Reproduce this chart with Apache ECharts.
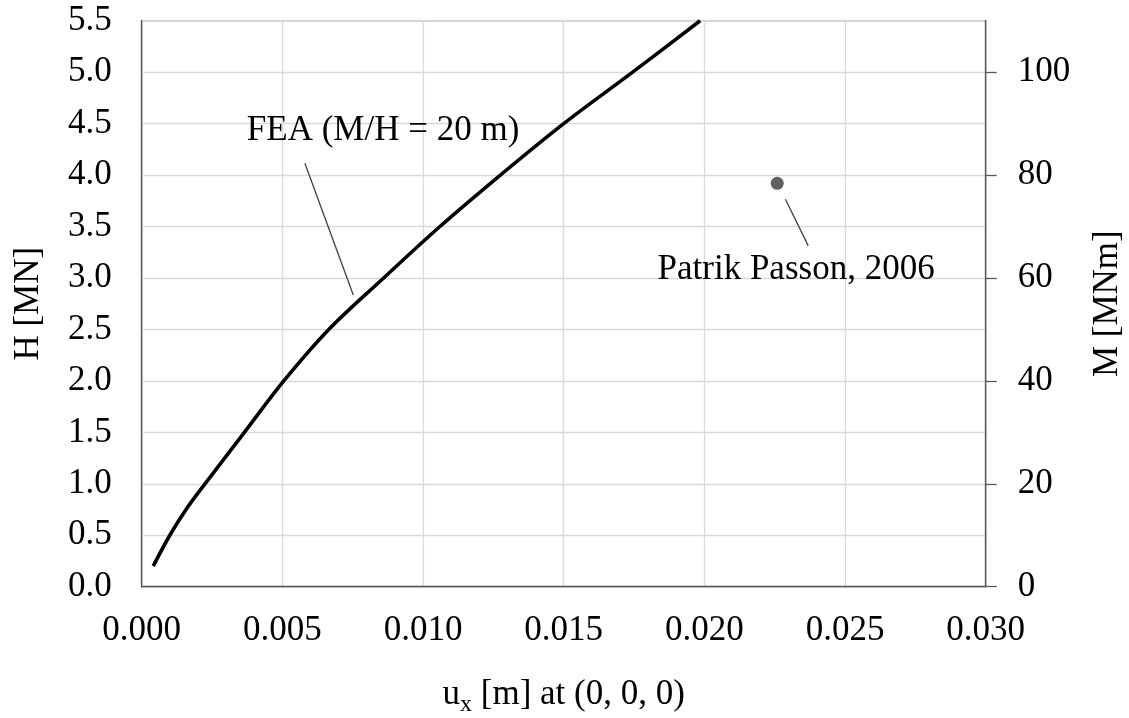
<!DOCTYPE html>
<html>
<head>
<meta charset="utf-8">
<script src="https://cdn.jsdelivr.net/npm/echarts@6/dist/echarts.min.js"></script>
<style>html,body{margin:0;padding:0;background:#fff}#c{width:1129px;height:718px}</style>
</head>
<body>
<div id="c"></div>
<script>
// FEA curve: displacement u_x [m] vs horizontal load H [MN]
const feaUx = [0.00041, 0.00100, 0.00160, 0.00225, 0.00365, 0.00505, 0.00665, 0.0086, 0.0106, 0.01275, 0.0150, 0.01745, 0.01985];
const feaH  = [0.20, 0.50, 0.76, 1.00, 1.50, 2.00, 2.50, 3.00, 3.50, 4.00, 4.50, 5.00, 5.50];
// Measured point (Patrik Passon, 2006)
const passonUx = [0.02259];
const passonH  = [3.92];
// Annotation label positions (data units) and leader lines
const labelTexts = ['FEA (M/H = 20 m)', 'Patrik Passon, 2006'];
const labelUx = [0.00858, 0.02326];
const labelH  = [4.43, 3.077];
const leaderFrom = [[0.00580, 4.115], [0.02288, 3.765]];
const leaderTo   = [[0.00752, 2.835], [0.02369, 3.314]];
// Axes
const xTicks = [0, 0.005, 0.010, 0.015, 0.020, 0.025, 0.030];
const hTicks = [0, 0.5, 1.0, 1.5, 2.0, 2.5, 3.0, 3.5, 4.0, 4.5, 5.0, 5.5];
const mTicks = [0, 20, 40, 60, 80, 100];

const FONT = '"Liberation Serif", "Times New Roman", serif';
const FS = 35;
const AX = '#595959';
const chart = echarts.init(document.getElementById('c'), null, {renderer: 'canvas'});

const option = {
  animation: false,
  backgroundColor: '#ffffff',
  textStyle: {fontFamily: FONT},
  grid: {left: 141.7, right: 143.3, top: 20.7, bottom: 131.3, containLabel: false, outerBoundsMode: 'none',
    show: true, borderColor: AX, borderWidth: 1.3, backgroundColor: 'transparent'},
  xAxis: {
    type: 'value', min: xTicks[0], max: xTicks[xTicks.length - 1], interval: xTicks[1] - xTicks[0],
    axisLine: {show: true, lineStyle: {color: AX, width: 1.3}},
    axisTick: {show: false},
    splitLine: {show: true, lineStyle: {color: '#d9d9d9', width: 1.3}},
    axisLabel: {color: '#000', fontSize: FS, fontFamily: FONT, margin: 27, formatter: v => v.toFixed(3)},
    name: '{n|u}{s|x}{n| [m] at (0, 0, 0)}', nameLocation: 'middle', nameGap: 86,
    nameTextStyle: {rich: {n: {fontSize: FS, fontFamily: FONT, color: '#000'}, s: {fontSize: 24, fontFamily: FONT, color: '#000', padding: [20, 0, 0, 0]}}}
  },
  yAxis: [{
    type: 'value', min: hTicks[0], max: hTicks[hTicks.length - 1], interval: hTicks[1] - hTicks[0],
    axisLine: {show: true, lineStyle: {color: AX, width: 1.3}},
    axisTick: {show: false},
    splitLine: {show: true, lineStyle: {color: '#d9d9d9', width: 1.3}},
    axisLabel: {color: '#000', fontSize: FS, fontFamily: FONT, margin: 30, formatter: v => v.toFixed(1)},
    name: 'H [MN]', nameLocation: 'middle', nameGap: 95, nameRotate: 90,
    nameTextStyle: {fontSize: FS, fontFamily: FONT, color: '#000'}
  }, {
    type: 'value', position: 'right', min: 0, max: 110, interval: mTicks[1] - mTicks[0],
    axisLine: {show: true, lineStyle: {color: AX, width: 1.3}},
    axisTick: {show: true, inside: false, length: 11, lineStyle: {color: AX, width: 1.3}},
    splitLine: {show: false},
    axisLabel: {color: '#000', fontSize: FS, fontFamily: FONT, margin: 32, showMaxLabel: false,
      formatter: v => (mTicks.indexOf(v) >= 0 ? String(v) : '')},
    name: 'M [MNm]', nameLocation: 'middle', nameGap: 105, nameRotate: 90,
    nameTextStyle: {fontSize: FS, fontFamily: FONT, color: '#000'}
  }],
  series: [{
    type: 'line', name: 'FEA', yAxisIndex: 0,
    data: feaUx.map((x, i) => [x, feaH[i]]),
    showSymbol: false, smooth: 0.35, lineStyle: {color: '#000', width: 3.6}, z: 5,
    markLine: {
      silent: true, symbol: ['none', 'none'], label: {show: false},
      lineStyle: {color: '#404040', width: 1.3, type: 'solid'},
      data: leaderFrom.map((f, i) => [{coord: f}, {coord: leaderTo[i]}])
    }
  }, {
    type: 'scatter', name: 'Passon', yAxisIndex: 0,
    data: passonUx.map((x, i) => [x, passonH[i]]),
    symbol: 'circle', symbolSize: 13, itemStyle: {color: '#606060', opacity: 1}, z: 6
  }, {
    type: 'scatter', name: 'labels', yAxisIndex: 0, silent: true,
    data: labelUx.map((x, i) => ({value: [x, labelH[i]], name: labelTexts[i]})),
    symbolSize: 0, itemStyle: {opacity: 1},
    label: {show: true, position: 'inside', formatter: p => p.name, color: '#000', opacity: 1, fontSize: FS, fontFamily: FONT}
  }]
};
chart.setOption(option);
</script>
</body>
</html>
